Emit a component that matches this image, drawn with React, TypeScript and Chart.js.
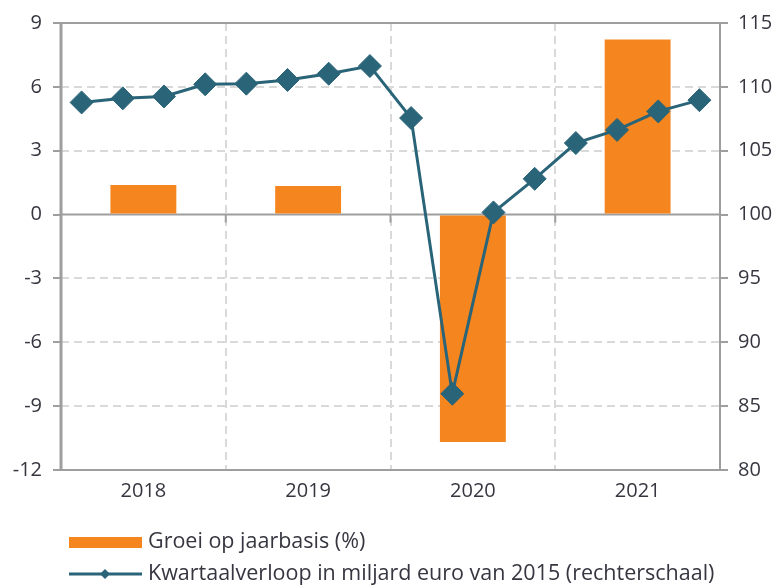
import React, { useEffect, useRef } from "react";
import { Chart, registerables } from "chart.js";

Chart.register(...registerables);

const years = ["2018", "2019", "2020", "2021"];
const quarters = [
  "2018K1", "2018K2", "2018K3", "2018K4",
  "2019K1", "2019K2", "2019K3", "2019K4",
  "2020K1", "2020K2", "2020K3", "2020K4",
  "2021K1", "2021K2", "2021K3", "2021K4",
];
const growthYoY = [1.39, 1.34, -10.69, 8.22];
const quarterlyLevel = [
  108.78, 109.1, 109.25, 110.2,
  110.25, 110.54, 111.03, 111.63,
  107.56, 85.97, 100.17, 102.8,
  105.6, 106.63, 108.08, 108.96,
];
const leftTicks = { min: -12, max: 9, step: 3 };
const rightTicks = { min: 80, max: 115, step: 5 };
const legendLabels = [
  "Groei op jaarbasis (%)",
  "Kwartaalverloop in miljard euro van 2015 (rechterschaal)",
];

const ORANGE = "#F5861F";
const TEAL = "#2A6478";
const AXIS = "#9e9e9e";
const GRID = "#d9d9d9";
const TEXT = "#363640";
const FONT = "'Open Sans', sans-serif";

const framePlugin = {
  id: "frame",
  beforeDatasetsDraw(chart: any) {
    const { ctx, chartArea } = chart;
    const y = chart.scales.y;
    const x = chart.scales.x;
    const zeroY = y.getPixelForValue(0);
    ctx.save();
    ctx.setLineDash([]);
    ctx.strokeStyle = AXIS;
    ctx.lineWidth = 2;
    ctx.beginPath();
    ctx.moveTo(chartArea.left, zeroY);
    ctx.lineTo(chartArea.right, zeroY);
    ctx.stroke();
    for (let i = 0; i < years.length - 1; i++) {
      const bx = (x.getPixelForValue(i) + x.getPixelForValue(i + 1)) / 2;
      ctx.beginPath();
      ctx.moveTo(bx, zeroY);
      ctx.lineTo(bx, zeroY + 8);
      ctx.stroke();
    }
    ctx.lineWidth = 2;
    ctx.strokeRect(chartArea.left, chartArea.top, chartArea.right - chartArea.left, chartArea.bottom - chartArea.top);
    ctx.lineWidth = 3;
    ctx.beginPath();
    ctx.moveTo(chartArea.left, chartArea.top);
    ctx.lineTo(chartArea.left, chartArea.bottom);
    ctx.stroke();
    ctx.restore();
  },
  afterDraw(chart: any) {
    const { ctx } = chart;
    ctx.save();
    ctx.font = `21.5px ${FONT}`;
    ctx.textBaseline = "middle";
    ctx.textAlign = "left";
    ctx.fillStyle = ORANGE;
    ctx.fillRect(69, 537, 73, 11);
    ctx.fillStyle = TEXT;
    ctx.fillText(legendLabels[0], 148, 542);
    ctx.strokeStyle = TEAL;
    ctx.lineWidth = 3;
    ctx.beginPath();
    ctx.moveTo(69, 574);
    ctx.lineTo(142, 574);
    ctx.stroke();
    ctx.fillStyle = TEAL;
    ctx.beginPath();
    ctx.moveTo(105 - 5, 574);
    ctx.lineTo(105, 574 - 5);
    ctx.lineTo(105 + 5, 574);
    ctx.lineTo(105, 574 + 5);
    ctx.closePath();
    ctx.fill();
    ctx.fillStyle = TEXT;
    ctx.fillText(legendLabels[1], 148, 574);
    ctx.restore();
  },
};

export default function App() {
  const canvasRef = useRef<HTMLCanvasElement | null>(null);

  useEffect(() => {
    document.body.style.margin = "0";
    const canvas = canvasRef.current;
    if (!canvas) return;
    const chart = new Chart(canvas, {
      type: "bar",
      data: {
        datasets: [
          {
            type: "line",
            label: legendLabels[1],
            data: quarterlyLevel,
            xAxisID: "x2",
            yAxisID: "y1",
            borderColor: TEAL,
            backgroundColor: TEAL,
            borderWidth: 3,
            pointStyle: "rectRot",
            pointRadius: 11.5,
            pointBorderWidth: 1,
            pointBackgroundColor: TEAL,
            pointBorderColor: TEAL,
            tension: 0,
            order: 0,
          } as any,
          {
            type: "bar",
            label: legendLabels[0],
            data: growthYoY,
            xAxisID: "x",
            yAxisID: "y",
            backgroundColor: ORANGE,
            borderWidth: 0,
            grouped: false,
            categoryPercentage: 0.4,
            barPercentage: 1,
            order: 1,
          } as any,
        ],
      },
      options: {
        animation: false,
        responsive: true,
        maintainAspectRatio: false,
        layout: { padding: { top: 20, left: 0, right: 0, bottom: 75 } },
        plugins: {
          legend: { display: false },
          tooltip: { enabled: false },
        },
        scales: {
          x: {
            type: "category",
            labels: years,
            position: "bottom",
            offset: true,
            grid: {
              offset: true,
              color: GRID,
              lineWidth: 2,
              drawTicks: false,
            },
            border: { display: false, dash: [8, 5] },
            ticks: {
              color: TEXT,
              font: { family: FONT, size: 20 },
              padding: 9,
            },
            afterFit: (s: any) => {
              s.height = 40;
            },
          },
          x2: {
            type: "category",
            labels: quarters,
            display: false,
            offset: true,
          },
          y: {
            type: "linear",
            position: "left",
            min: leftTicks.min,
            max: leftTicks.max,
            ticks: {
              stepSize: leftTicks.step,
              color: TEXT,
              font: { family: FONT, size: 20 },
              padding: 11,
            },
            grid: {
              color: (c: any) => (c.tick && (c.tick.value === 0 || c.tick.value === leftTicks.max || c.tick.value === leftTicks.min) ? "rgba(0,0,0,0)" : GRID),
              lineWidth: 2,
              tickColor: AXIS,
              tickWidth: 2,
              tickLength: 8,
            },
            border: { display: false, dash: [8, 5] },
            afterFit: (s: any) => {
              s.width = 61;
            },
          },
          y1: {
            type: "linear",
            position: "right",
            min: rightTicks.min,
            max: rightTicks.max,
            ticks: {
              stepSize: rightTicks.step,
              color: TEXT,
              font: { family: FONT, size: 20 },
              padding: 10,
            },
            grid: {
              drawOnChartArea: false,
              color: AXIS,
              lineWidth: 2,
              tickColor: AXIS,
              tickWidth: 2,
              tickLength: 8,
            },
            border: { display: false },
            afterFit: (s: any) => {
              s.width = 56;
            },
          },
        },
      },
      plugins: [framePlugin],
    });
    return () => chart.destroy();
  }, []);

  return (
    <div style={{ width: 776, height: 585, position: "relative", overflow: "hidden" }}>
      <canvas ref={canvasRef} />
    </div>
  );
}
